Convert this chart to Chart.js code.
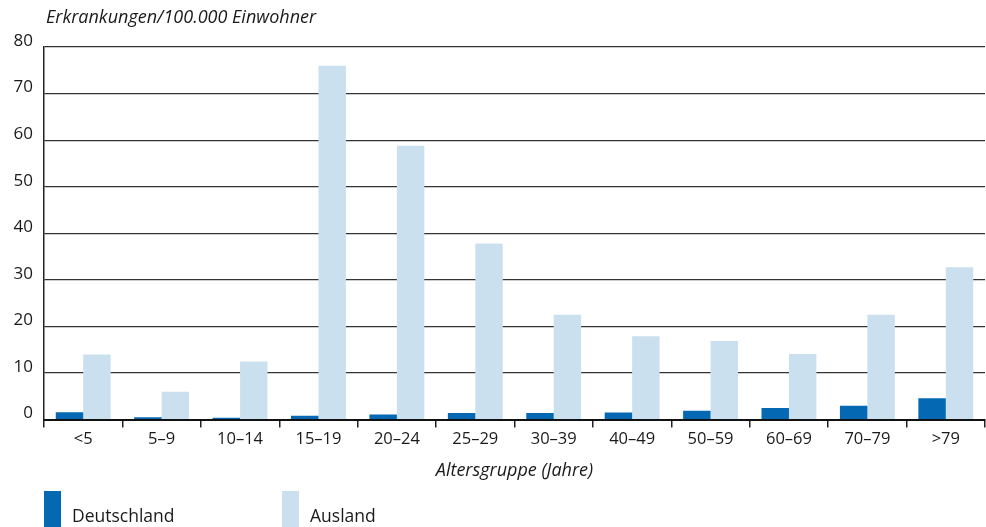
<!DOCTYPE html>
<html>
<head>
<meta charset="utf-8">
<script src="https://cdn.jsdelivr.net/npm/chart.js@4/dist/chart.umd.min.js"></script>
<style>
  html, body { margin: 0; padding: 0; background: #fff; }
  #wrap { position: relative; width: 986px; height: 527px; overflow: hidden; font-family: "Open Sans", sans-serif; color: #1a1a1a; }
  #ytitle { position: absolute; left: 46px; top: 4px; font-size: 18px; font-style: italic; white-space: nowrap; }
  .lg-box { position: absolute; top: 491px; width: 17px; height: 40px; }
  .lg-text { position: absolute; top: 503px; font-size: 17.5px; white-space: nowrap; }
</style>
</head>
<body>
<div id="wrap">
  <canvas id="c" width="986" height="527"></canvas>
  <div id="ytitle">Erkrankungen/100.000 Einwohner</div>
  <div class="lg-box" style="left:44px;background:#0568b3"></div>
  <div class="lg-text" style="left:72px">Deutschland</div>
  <div class="lg-box" style="left:282px;background:#cbe0ef"></div>
  <div class="lg-text" style="left:310px">Ausland</div>
</div>
<script>
const categories = ['<5', '5–9', '10–14', '15–19', '20–24', '25–29', '30–39', '40–49', '50–59', '60–69', '70–79', '>79'];
const deutschland = [1.6, 0.5, 0.4, 0.8, 1.1, 1.4, 1.4, 1.5, 1.9, 2.5, 3.0, 4.6];
const ausland = [14.0, 6.0, 12.5, 76.0, 58.8, 37.8, 22.5, 17.9, 16.9, 14.1, 22.5, 32.7];
const yTicks = [0, 10, 20, 30, 40, 50, 60, 70, 80];
const xTitle = 'Altersgruppe (Jahre)';

const FONT = '"Open Sans", sans-serif';

new Chart(document.getElementById('c'), {
  type: 'bar',
  data: {
    labels: categories,
    datasets: [
      { label: 'Deutschland', data: deutschland, backgroundColor: '#0568b3', borderWidth: 0 },
      { label: 'Ausland', data: ausland, backgroundColor: '#cbe0ef', borderWidth: 0 }
    ]
  },
  options: {
    responsive: false,
    animation: false,
    events: [],
    layout: { padding: { left: 0, right: 1, top: 47, bottom: 45 } },
    datasets: { bar: { categoryPercentage: 0.7, barPercentage: 1.0 } },
    plugins: { legend: { display: false }, tooltip: { enabled: false }, title: { display: false } },
    scales: {
      x: {
        grid: { offset: true, drawOnChartArea: false, drawTicks: true, tickLength: 8, color: '#222', lineWidth: 1.5 },
        border: { display: true, color: '#111', width: 2 },
        ticks: { color: '#1a1a1a', font: { family: FONT, size: 16.5 }, padding: 2, maxRotation: 0, autoSkip: false },
        title: { display: true, text: xTitle, color: '#1a1a1a', font: { family: FONT, size: 18, style: 'italic' }, padding: { top: 9, bottom: 0 } }
      },
      y: {
        min: 0, max: 80,
        afterBuildTicks: (s) => { s.ticks = yTicks.map(v => ({ value: v })); },
        afterFit: (s) => { s.width = 44; },
        grid: { drawTicks: false, color: '#333', lineWidth: 1.3 },
        border: { display: true, color: '#222', width: 1.5 },
        ticks: { color: '#1a1a1a', font: { family: FONT, size: 17 }, padding: 11, labelOffset: -6 }
      }
    }
  }
});
</script>
</body>
</html>
